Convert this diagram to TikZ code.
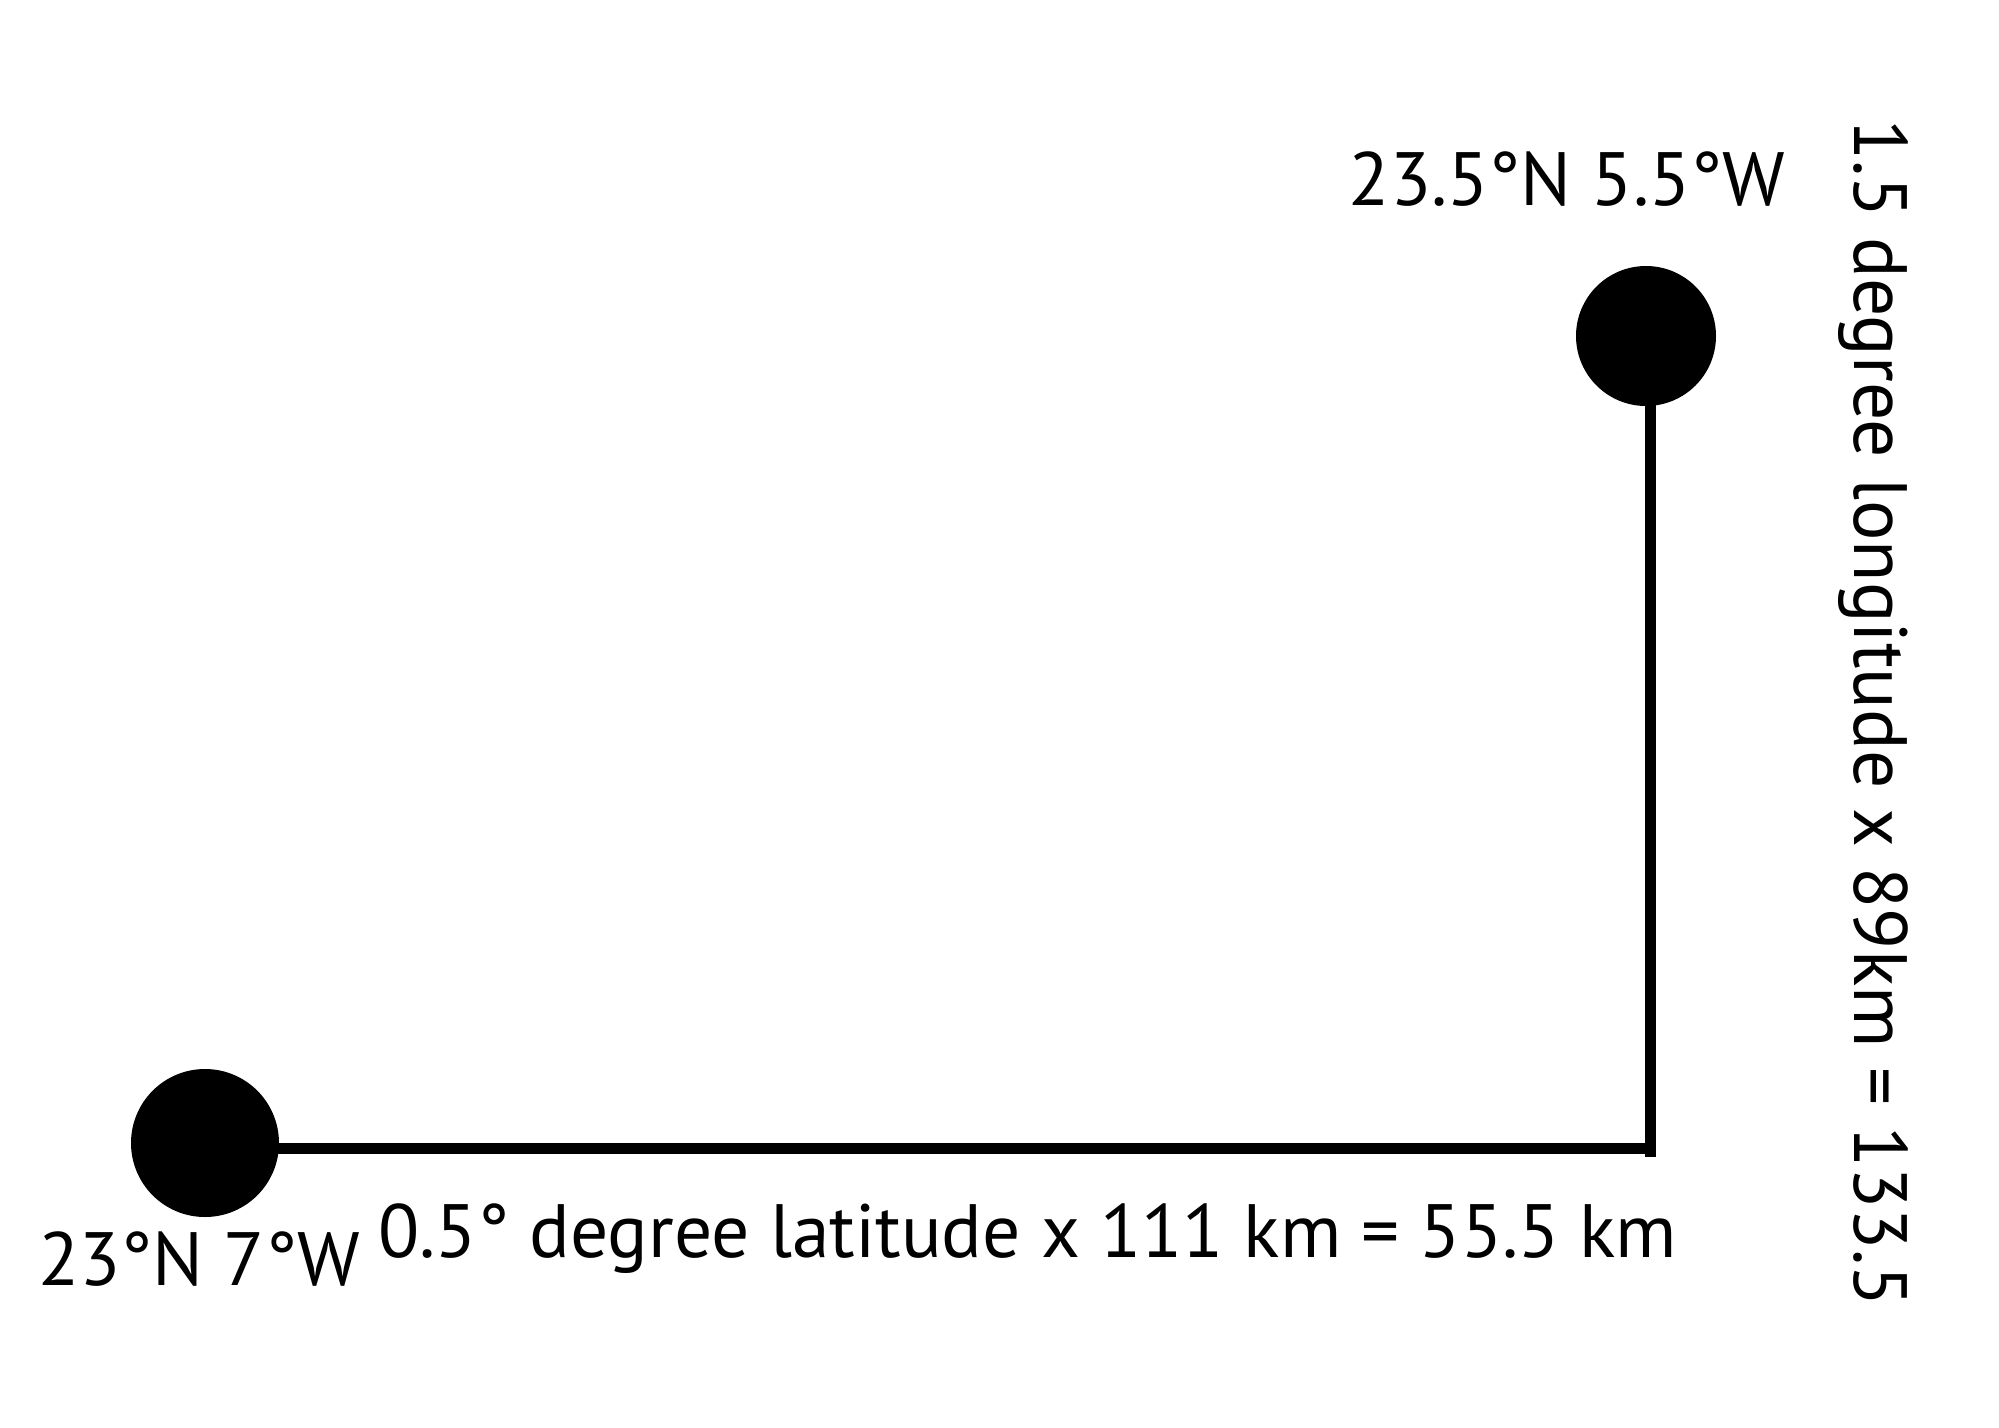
\documentclass[tikz,border=0pt]{standalone}
\usepackage{fontspec}
\setmainfont{PT Sans}
\usepackage{tikz}
\usetikzlibrary{positioning}
\tikzstyle{place} = [circle, fill=black, draw=none, inner sep=0pt, minimum size=1.48cm]
\tikzstyle{leg} = [line width=0.11cm, draw=black]
\tikzstyle{tag} = [inner sep=0pt, anchor=base, font=\fontsize{21.5}{26}\selectfont]

\begin{document}
\begin{tikzpicture}
\useasboundingbox (0,0) rectangle (19.99,-14.28);
\node (west) [place] at (2.05,-11.43) {};
\node (east) [place, minimum size=1.40cm] at (16.46,-3.36) {};
\coordinate (corner) at (16.50,-11.48);
\coordinate (tick) at (16.50,-11.57);

\draw [leg] (west |- corner) -- (corner);
\draw [leg] (corner |- east) -- (tick);

\node (eastlabel) [tag] at (15.67,-2.05) {23.5°N 5.5°W};
\node (westlabel) [tag] at (1.99,-12.85) {23°N 7°W};
\node (latlabel) [tag] at (10.28,-12.57) {0.5° degree latitude x 111 km = 55.5 km};
\node (lonlabel) [tag, rotate=-90] at (18.54,-7.13) {1.5 degree longitude x 89km = 133.5};
\end{tikzpicture}
\end{document}
